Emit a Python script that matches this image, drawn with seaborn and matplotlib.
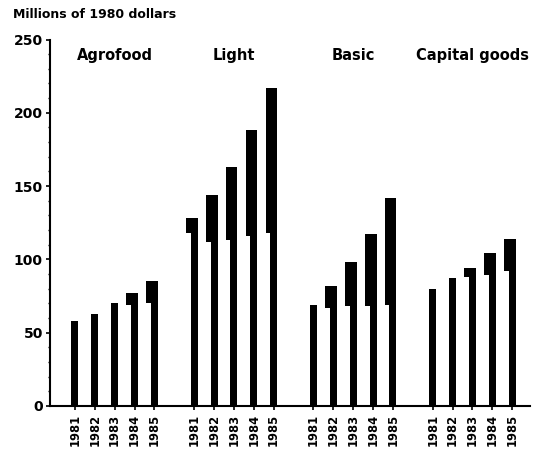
import matplotlib
matplotlib.use("Agg")
import matplotlib.pyplot as plt
import numpy as np
import pandas as pd
import seaborn as sns

# Investment by sector, millions of 1980 dollars
sectors = ["Agrofood", "Light", "Basic", "Capital goods"]
years = ["1981", "1982", "1983", "1984", "1985"]

agrofood_total = [58, 63, 70, 77, 85]
agrofood_base = [58, 63, 70, 69, 70]
light_total = [128, 144, 163, 188, 217]
light_base = [118, 112, 113, 116, 118]
basic_total = [69, 82, 98, 117, 142]
basic_base = [69, 67, 68, 68, 69]
capital_total = [80, 87, 94, 104, 114]
capital_base = [80, 87, 88, 89, 92]

totals = [agrofood_total, light_total, basic_total, capital_total]
bases = [agrofood_base, light_base, basic_base, capital_base]

# one slot per year, an empty gap slot between sectors
rows = []
for g, sector in enumerate(sectors):
    for i, yr in enumerate(years):
        rows.append({"sector": sector, "year": yr, "pos": g * 6 + i,
                     "total": totals[g][i], "base": bases[g][i]})
df = pd.DataFrame(rows)

sns.set_theme(style="white")
plt.rcParams["font.family"] = ["DejaVu Sans"]
plt.rcParams["font.weight"] = "bold"
plt.rcParams["text.color"] = "black"
plt.rcParams["xtick.color"] = "black"
plt.rcParams["ytick.color"] = "black"
plt.rcParams["xtick.labelcolor"] = "black"
plt.rcParams["ytick.labelcolor"] = "black"

fig = plt.figure(figsize=(5.36, 4.49), dpi=100)
ax = fig.add_axes([0.093, 0.096, 0.896, 0.816])

narrow_w = 0.35
wide_w = 0.58

sns.barplot(data=df, x="pos", y="total", native_scale=True, width=narrow_w,
            color="black", saturation=1, ax=ax, linewidth=0)

# wider upper segment, right edge flush with the stem
ax.bar(df["pos"] + narrow_w / 2, df["total"] - df["base"], width=-wide_w,
       bottom=df["base"], align="edge", color="black", linewidth=0)

ax.set_xlim(-1.26, 22.9)
ax.set_ylim(0, 250)
ax.set_yticks([0, 50, 100, 150, 200, 250])
ax.set_yticks(np.arange(0, 251, 10), minor=True)
ax.set_xticks(df["pos"])
ax.set_xticklabels(df["year"], rotation=90, fontsize=8.3, fontweight="bold",
                   color="black")
ax.tick_params(axis="y", labelsize=10, length=3, width=1.2, pad=2,
               direction="out", left=True, color="black", labelcolor="black")
ax.tick_params(axis="y", which="minor", length=1.5, width=1, left=True,
               color="black")
ax.tick_params(axis="x", length=3, width=1.2, pad=3, direction="out",
               bottom=True, color="black")
for lab in ax.get_yticklabels():
    lab.set_fontweight("bold")

ax.set_xlabel("")
ax.set_ylabel("")
sns.despine(ax=ax)
for side in ("left", "bottom"):
    ax.spines[side].set_color("black")
    ax.spines[side].set_linewidth(1.5)

for g, sector in enumerate(sectors):
    ax.text(g * 6 + 2, 239, sector, ha="center", va="center",
            fontsize=10.5, fontweight="bold", color="black")

fig.text(0.025, 0.967, "Millions of 1980 dollars", ha="left", va="center",
         fontsize=9, fontweight="bold", color="black")

fig.savefig("out.png", dpi=100)
